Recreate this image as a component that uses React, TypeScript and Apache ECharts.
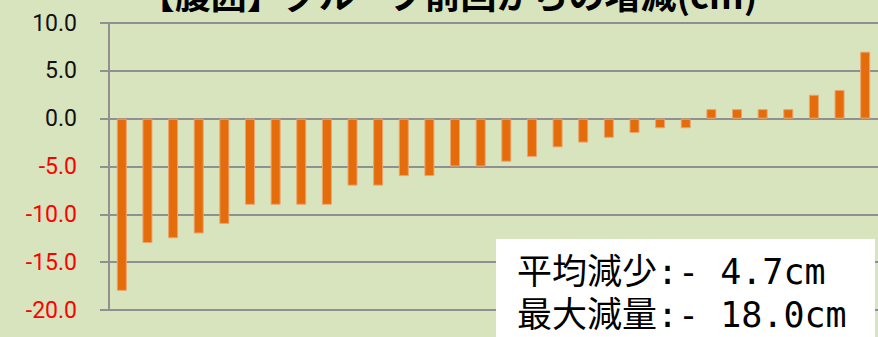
import React, { useEffect, useRef } from "react";
import * as echarts from "echarts";

const categories = [
  "1", "2", "3", "4", "5", "6", "7", "8", "9", "10",
  "11", "12", "13", "14", "15", "16", "17", "18", "19", "20",
  "21", "22", "23", "24", "25", "26", "27", "28", "29", "30",
];
const values = [
  -18, -13, -12.5, -12, -11, -9, -9, -9, -9, -7,
  -7, -6, -6, -5, -5, -4.5, -4, -3, -2.5, -2,
  -1.5, -1, -1, 1, 1, 1, 1, 2.5, 3, 7,
];
const yMin = -20;
const yMax = 10;
const yInterval = 5;
const titleText = "【腹囲】グループ前回からの増減(cm)";
const summaryLines = ["平均減少:- 4.7cm", "最大減量:- 18.0cm"];

export default function App() {
  const ref = useRef<HTMLDivElement>(null);
  useEffect(() => {
    if (!ref.current) return;
    const chart = echarts.init(ref.current, null, { renderer: "svg" });
    const grey = "#909090";
    chart.setOption({
      animation: false,
      backgroundColor: "#d8e4bd",
      grid: { left: 109, top: 23, bottom: 27, width: 775, containLabel: false },
      xAxis: {
        type: "category",
        data: categories,
        axisLine: { show: false },
        axisTick: { show: false },
        axisLabel: { show: false },
        splitLine: { show: false },
      },
      yAxis: {
        type: "value",
        min: yMin,
        max: yMax,
        interval: yInterval,
        axisLine: { show: true, lineStyle: { color: grey, width: 2 } },
        axisTick: { show: true, length: 9, lineStyle: { color: grey, width: 2 } },
        splitLine: { show: true, lineStyle: { color: grey, width: 2 } },
        axisLabel: {
          margin: 32,
          formatter: (v: number) => (v < 0 ? `{neg|${v.toFixed(1)}}` : `{pos|${v.toFixed(1)}}`),
          rich: {
            neg: { color: "#ff0000", fontSize: 23, fontFamily: "Roboto" },
            pos: { color: "#111111", fontSize: 23, fontFamily: "Roboto" },
          },
        },
      },
      series: [
        {
          type: "bar",
          data: values,
          barWidth: 10,
          itemStyle: { color: "#e46c0a", borderColor: "#eca46c", borderWidth: 1 },
        },
      ],
      graphic: [
        {
          type: "text",
          x: 448,
          y: -7,
          z: 100,
          style: {
            text: titleText,
            fontSize: 36,
            fontWeight: "bold",
            fontFamily: "'Noto Sans CJK JP'",
            fill: "#000",
            align: "center",
            verticalAlign: "middle",
          },
        },
        {
          type: "rect",
          z: 100,
          shape: { x: 496, y: 239, width: 379, height: 110 },
          style: { fill: "#ffffff" },
        },
        {
          type: "text",
          x: 517,
          y: 272,
          z: 101,
          style: {
            text: summaryLines[0],
            fontSize: 35,
            fontFamily: "'DejaVu Sans Mono', 'Noto Sans CJK JP'",
            fill: "#000",
            align: "left",
            verticalAlign: "middle",
          },
        },
        {
          type: "text",
          x: 517,
          y: 315,
          z: 101,
          style: {
            text: summaryLines[1],
            fontSize: 35,
            fontFamily: "'DejaVu Sans Mono', 'Noto Sans CJK JP'",
            fill: "#000",
            align: "left",
            verticalAlign: "middle",
          },
        },
      ],
    });
    return () => chart.dispose();
  }, []);
  return (
    <div
      ref={ref}
      style={{ position: "fixed", left: 0, top: 0, width: 878, height: 337 }}
    />
  );
}
